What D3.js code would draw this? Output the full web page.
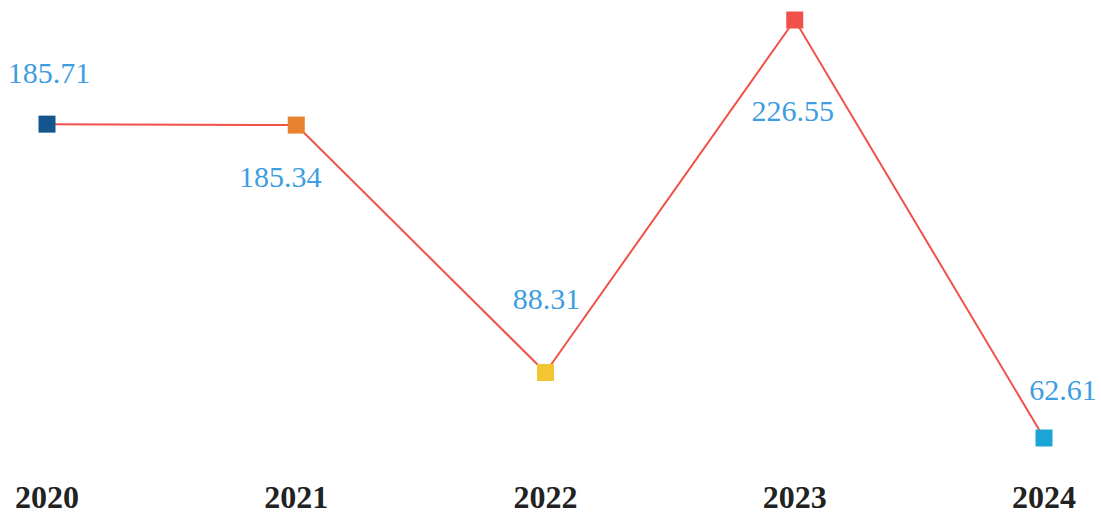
<!DOCTYPE html>
<html>
<head>
<meta charset="utf-8">
<script src="https://cdn.jsdelivr.net/npm/d3@7"></script>
<style>
  body { margin: 0; background: #fff; }
</style>
</head>
<body>
<div id="chart"></div>
<script>
// Chart data
var years = ["2020", "2021", "2022", "2023", "2024"];
var values = [185.71, 185.34, 88.31, 226.55, 62.61];
var pointColors = ["#14558f", "#e8822e", "#f2c531", "#f0524a", "#1aa5d4"];
// label offsets from the point (baseline)
var labelDy = [-41, 62, -63, 101, -38];
var labelDx = [2, -16, 1, -2, 19];

var width = 1101;
var height = 517;

var svg = d3.select("#chart")
    .append("svg")
    .attr("width", width)
    .attr("height", height);

var x = d3.scalePoint()
    .domain(years)
    .range([47, 1044]);

var y = d3.scaleLinear()
    .domain([d3.min(values), d3.max(values)])
    .range([438, 20]);

var data = years.map(function(d, i) {
    return { year: d, value: values[i], color: pointColors[i], dy: labelDy[i], dx: labelDx[i] };
});

// Line
var line = d3.line()
    .x(function(d) { return x(d.year); })
    .y(function(d) { return y(d.value); });

svg.append("path")
    .datum(data)
    .attr("d", line)
    .attr("fill", "none")
    .attr("stroke", "#f0524a")
    .attr("stroke-width", 2);

// Square markers
var size = 17;
svg.selectAll("rect.point")
    .data(data)
    .enter()
    .append("rect")
    .attr("class", "point")
    .attr("x", function(d) { return x(d.year) - size / 2; })
    .attr("y", function(d) { return y(d.value) - size / 2; })
    .attr("width", size)
    .attr("height", size)
    .attr("fill", function(d) { return d.color; });

// Value labels
svg.selectAll("text.value")
    .data(data)
    .enter()
    .append("text")
    .attr("class", "value")
    .attr("x", function(d) { return x(d.year) + d.dx; })
    .attr("y", function(d) { return y(d.value) + d.dy; })
    .attr("text-anchor", "middle")
    .style("font-family", "'Liberation Serif', serif")
    .style("font-size", "30px")
    .style("fill", "#3d9de0")
    .text(function(d) { return d.value.toFixed(2); });

// Year axis labels
svg.selectAll("text.year")
    .data(years)
    .enter()
    .append("text")
    .attr("class", "year")
    .attr("x", function(d) { return x(d); })
    .attr("y", 508)
    .attr("text-anchor", "middle")
    .style("font-family", "'Liberation Serif', serif")
    .style("font-weight", "bold")
    .style("font-size", "32px")
    .style("fill", "#222")
    .text(function(d) { return d; });
</script>
</body>
</html>
